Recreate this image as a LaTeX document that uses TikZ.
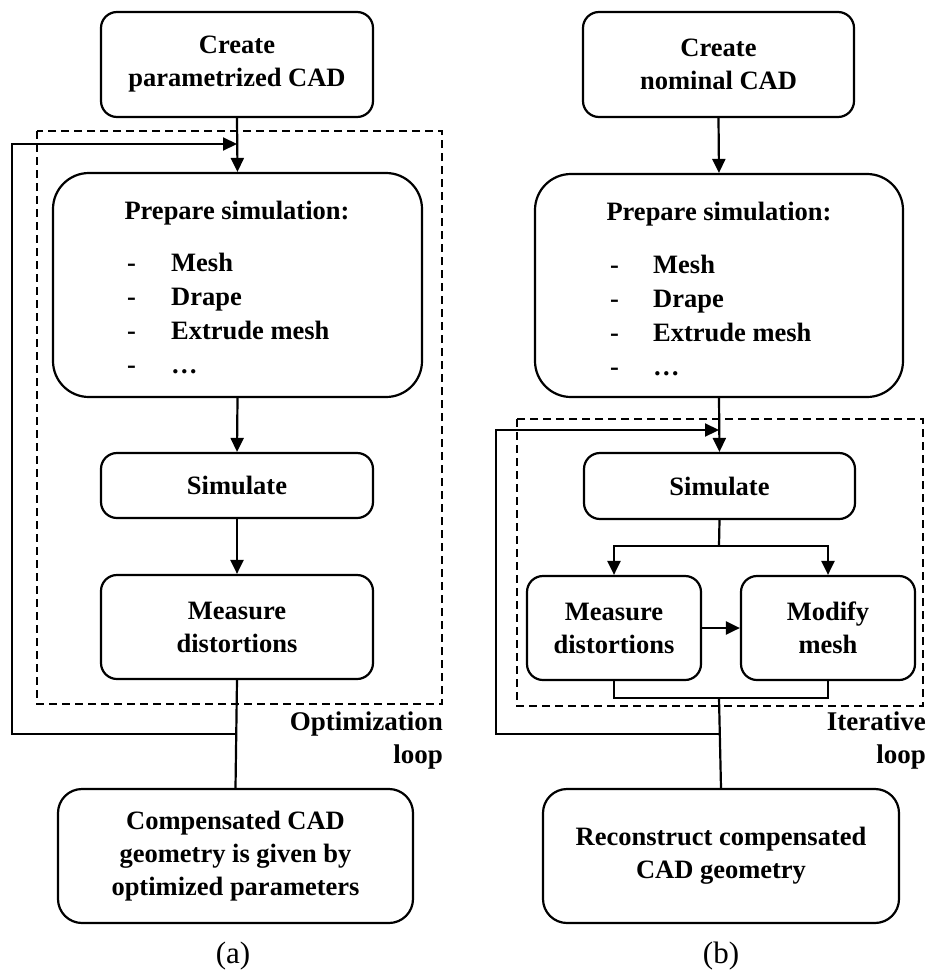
\documentclass[tikz,border=0pt]{standalone}
\usepackage{fontspec}
\setmainfont{Liberation Serif}
\usetikzlibrary{arrows.meta}
\begin{document}
\begin{tikzpicture}[x=1pt,y=-1pt,
  every node/.style={font=\fontsize{26.5}{33}\selectfont\bfseries},
  box/.style={draw, line width=2.2pt, rounded corners=16pt, align=center, inner sep=0pt},
  ln/.style={line width=2.2pt},
  arr/.style={line width=2.2pt, -{Triangle[length=14pt,width=13pt]}},
  dbox/.style={line width=2pt, dash pattern=on 8pt off 5pt},
  lbl/.style={font=\fontsize{27}{33}\selectfont\bfseries, align=right, inner sep=0pt},
  captxt/.style={font=\fontsize{31}{34}\selectfont, inner sep=0pt}]
\useasboundingbox (0,0) rectangle (928,972);
% ---------- (a) ----------
\draw[dbox] (37,131) rectangle (442,704);
\node[box, minimum width=272pt, minimum height=105pt] (cA) at (237,64.5) {Create\\parametrized CAD};
\node[box, rounded corners=36pt, minimum width=369pt, minimum height=224pt] (pA) at (237.5,285) {};
\node[anchor=base, inner sep=0pt] (tA) at (237,219) {Prepare simulation:};
\node[anchor=base west, inner sep=0pt] (iA) at (127,271) {\fontsize{26.5}{34}\selectfont\begin{tabular}[t]{@{}p{44pt}@{}l@{}}-&Mesh\\-&Drape\\-&Extrude mesh\\-&\dots\end{tabular}};
\node[box, minimum width=272pt, minimum height=65pt] (sA) at (237,485.5) {Simulate};
\node[box, minimum width=272pt, minimum height=104pt] (mA) at (237,627) {Measure\\distortions};
\node[box, rounded corners=24pt, minimum width=355pt, minimum height=134pt] (oA) at (235.5,856) {Compensated CAD\\geometry is given by\\optimized parameters};
\node[lbl, anchor=east] (lA) at (443,740) {Optimization\\loop};
\node[captxt] (capA) at (233,956) {(a)};
\coordinate (jA) at (237,734);
\coordinate (lA1) at (12,734);
\coordinate (lA2) at (12,144);
\coordinate (tAin) at (237,144);
\draw[arr] (cA.south) -- (pA.north);
\draw[arr] (pA.south) -- (sA.north);
\draw[arr] (sA.south) -- (mA.north);
\draw[ln] (mA.south) -- (oA.north);
\draw[arr] (jA) -- (lA1) -- (lA2) -- (tAin);
% ---------- (b) ----------
\draw[dbox] (517,419) rectangle (923,706);
\node[box, minimum width=271pt, minimum height=105pt] (cB) at (718.5,64.5) {Create\\nominal CAD};
\node[box, rounded corners=36pt, minimum width=368pt, minimum height=223pt] (pB) at (719,285.5) {};
\node[anchor=base, inner sep=0pt] (tB) at (719,220) {Prepare simulation:};
\node[anchor=base west, inner sep=0pt] (iB) at (610,273) {\fontsize{26.5}{34}\selectfont\begin{tabular}[t]{@{}p{43pt}@{}l@{}}-&Mesh\\-&Drape\\-&Extrude mesh\\-&\dots\end{tabular}};
\node[box, minimum width=271pt, minimum height=66pt] (sB) at (719.5,486) {Simulate};
\node[box, minimum width=174pt, minimum height=104pt] (mB) at (614,628) {Measure\\distortions};
\node[box, minimum width=174pt, minimum height=104pt] (dB) at (828,628) {Modify\\mesh};
\node[box, rounded corners=24pt, minimum width=356pt, minimum height=134pt] (rB) at (721,856) {Reconstruct compensated\\CAD geometry};
\node[lbl, anchor=east] (lB) at (926,740) {Iterative\\loop};
\node[captxt] (capB) at (721,956) {(b)};
\coordinate (sp) at (719,546);
\coordinate (bB) at (719,698);
\coordinate (jB) at (719,734);
\coordinate (lB1) at (496,734);
\coordinate (lB2) at (496,430);
\coordinate (tBin) at (719,430);
\draw[arr] (cB.south) -- (pB.north);
\draw[arr] (pB.south) -- (sB.north);
\draw[ln] (sB.south) -- (sp);
\draw[arr] (sp) -| (mB.north);
\draw[arr] (sp) -| (dB.north);
\draw[arr] (mB.east) -- (dB.west);
\draw[ln] (mB.south) |- (bB) -| (dB.south);
\draw[ln] (bB) -- (rB.north);
\draw[arr] (jB) -- (lB1) -- (lB2) -- (tBin);
\end{tikzpicture}
\end{document}
